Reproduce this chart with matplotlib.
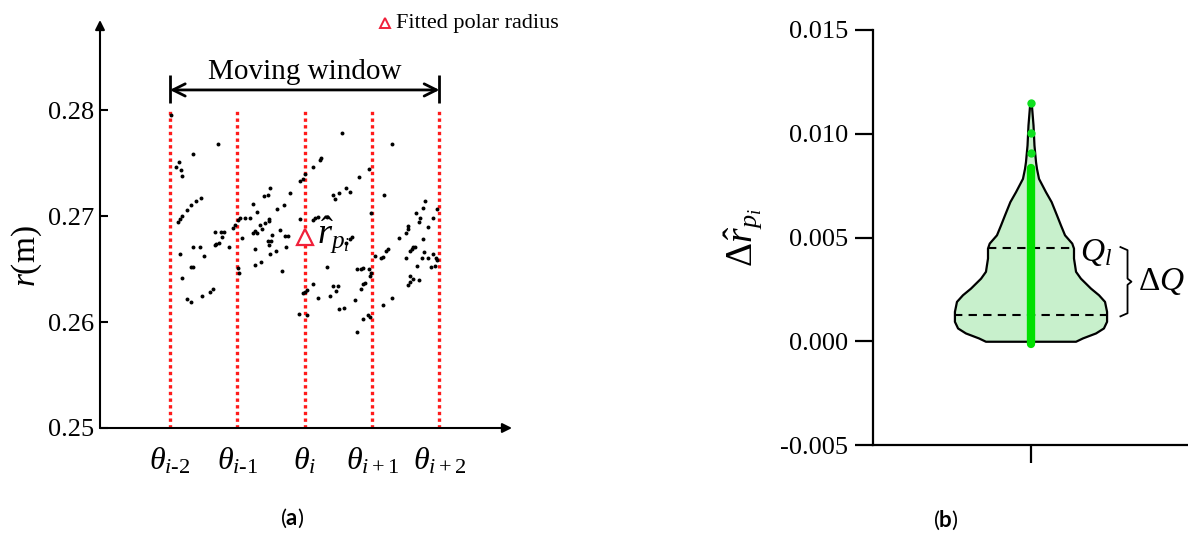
import numpy as np
import matplotlib
matplotlib.use("Agg")
import matplotlib.pyplot as plt

plt.rcParams['font.family'] = ['Liberation Serif', 'DejaVu Serif']
plt.rcParams['mathtext.fontset'] = 'custom'
plt.rcParams['mathtext.rm'] = 'Liberation Serif'
plt.rcParams['mathtext.it'] = 'Liberation Serif:italic'
plt.rcParams['mathtext.bf'] = 'Lato:bold'
plt.rcParams['mathtext.fallback'] = 'stix'

# ---- (a) polar radius samples around theta_i ----
theta_pos = [-2, -1, 0, 1, 2]
theta_labels = [r'$\theta_{i\text{-}2}$', r'$\theta_{i\text{-}1}$', r'$\theta_{i}$',
                r'$\theta_{i+1}$', r'$\theta_{i+2}$']
r_ticks = [0.25, 0.26, 0.27, 0.28]

theta_pts = [
    -1.98, -1.29, -1.65, -1.86, -1.91, -1.83, -1.82, 0.00, -0.07, -0.02,
    -0.51, -0.61, -0.55, -0.22, -1.54, -1.61, -1.69, -0.76, -0.31, -0.41,
    -1.74, -0.71, -1.82, -1.88, -1.85, -0.89, -0.81, -0.96, -0.53, -0.07,
    0.55, 1.29, 0.24, 0.22, 0.12, 0.96, 0.80, 0.61, 0.51, 0.67,
    0.42, 0.45, 1.18, 1.78, 1.75, 1.65, 1.97, 0.99, 1.91, 1.71,
    0.15, 0.20, 0.33, -0.99, -0.67, -0.59, -0.53, -0.74, -0.71, -0.76,
    -0.64, -0.37, -0.49, -0.29, -0.25, -0.93, -0.54, -0.50, -0.53, -0.27,
    -0.42, -1.33, -1.24, -1.19, -1.07, -1.03, -1.23, -1.27, -1.31, -1.33,
    -1.12, -1.66, -1.56, -1.85, -1.49, -0.74, -0.74, -0.65, -0.51, -0.99,
    -0.97, -1.69, -1.65, -0.34, -1.82, -0.02, 0.00, 0.03, -1.36, -1.41,
    -1.52, -1.74, -1.69, -0.09, 0.03, 0.62, 0.67, 0.70, 0.33, 0.77,
    0.84, 0.87, 0.96, 0.99, 0.97, 0.89, 0.86, 0.84, 0.12, 0.42,
    0.49, 0.46, 0.38, 0.20, 0.74, 0.51, 0.59, 0.94, 0.97, 0.86,
    0.78, 1.16, 1.30, 1.04, 1.16, 1.13, 1.24, 1.21, 1.40, 1.51,
    1.53, 1.54, 1.69, 1.83, 1.64, 1.61, 1.59, 1.56, 1.51, 1.75,
    1.77, 1.74, 1.83, 1.91, 1.95, 1.97, 1.66, 1.88, 1.93, 1.56,
    1.61, 1.56, 1.54, 1.69, 0.12]
r_pts = [
    0.2795, 0.2768, 0.2759, 0.2751, 0.2746, 0.2743, 0.2738, 0.2740, 0.2733, 0.2735,
    0.2726, 0.2719, 0.2720, 0.2722, 0.2717, 0.2714, 0.2710, 0.2711, 0.2710, 0.2707,
    0.2706, 0.2704, 0.2700, 0.2694, 0.2697, 0.2698, 0.2698, 0.2698, 0.2697, 0.2697,
    0.2778, 0.2768, 0.2755, 0.2753, 0.2746, 0.2744, 0.2737, 0.2726, 0.2722, 0.2723,
    0.2720, 0.2716, 0.2720, 0.2714, 0.2708, 0.2703, 0.2707, 0.2703, 0.2698, 0.2698,
    0.2698, 0.2699, 0.2699, 0.2696, 0.2692, 0.2693, 0.2695, 0.2686, 0.2684, 0.2684,
    0.2688, 0.2687, 0.2682, 0.2681, 0.2681, 0.2679, 0.2676, 0.2676, 0.2673, 0.2671,
    0.2667, 0.2685, 0.2685, 0.2685, 0.2689, 0.2692, 0.2680, 0.2675, 0.2674, 0.2673,
    0.2671, 0.2671, 0.2671, 0.2664, 0.2662, 0.2669, 0.2654, 0.2657, 0.2664, 0.2651,
    0.2646, 0.2652, 0.2652, 0.2648, 0.2642, 0.2627, 0.2628, 0.2630, 0.2631, 0.2628,
    0.2625, 0.2622, 0.2619, 0.2608, 0.2607, 0.2675, 0.2678, 0.2680, 0.2652, 0.2650,
    0.2650, 0.2651, 0.2650, 0.2646, 0.2643, 0.2637, 0.2636, 0.2631, 0.2636, 0.2634,
    0.2634, 0.2629, 0.2625, 0.2623, 0.2621, 0.2612, 0.2613, 0.2607, 0.2605, 0.2603,
    0.2591, 0.2616, 0.2623, 0.2662, 0.2661, 0.2660, 0.2669, 0.2667, 0.2679, 0.2684,
    0.2688, 0.2691, 0.2694, 0.2690, 0.2671, 0.2671, 0.2669, 0.2667, 0.2660, 0.2678,
    0.2666, 0.2660, 0.2660, 0.2664, 0.2660, 0.2659, 0.2653, 0.2652, 0.2653, 0.2643,
    0.2641, 0.2638, 0.2635, 0.2640, 0.2696]
r_fit = 0.2680  # fitted polar radius at theta_i

# ---- (b) violin of the radius deviation ----
violin_levels = [0.0, 0.00016, 0.0004, 0.00064, 0.00096, 0.00144, 0.00192, 0.00224,
                 0.00256, 0.00304, 0.00337, 0.00401, 0.00449, 0.00473, 0.00513,
                 0.00561, 0.00609, 0.00673, 0.00721, 0.00785, 0.00833, 0.00865,
                 0.00946, 0.01042, 0.01146]
violin_halfwidth = [0.286, 0.330, 0.413, 0.463, 0.483, 0.483, 0.470, 0.432,
                    0.381, 0.317, 0.286, 0.273, 0.273, 0.262, 0.216,
                    0.190, 0.165, 0.131, 0.095, 0.051, 0.038, 0.032,
                    0.022, 0.016, 0.005]
q_upper = 0.00449
q_lower = 0.00125
bar_top = 0.00833
outliers = [0.01146, 0.01002, 0.00905]
dev_ticks = [-0.005, 0.000, 0.005, 0.010, 0.015]
dev_labels = ['-0.005', '0.000', '0.005', '0.010', '0.015']

fig = plt.figure(figsize=(11.88, 5.33), dpi=100)

# left panel
ax = fig.add_axes([100/1188, 105/533, 412/1188, 408/533])
ax.set_xlim(-3.037, 3.076)
ax.set_ylim(0.25, 0.2885)
for s in ax.spines.values():
    s.set_visible(False)
ax.annotate('', xy=(0, 1), xytext=(0, 0), xycoords='axes fraction',
            arrowprops=dict(arrowstyle='-|>', lw=1.5, color='k', mutation_scale=14,
                            shrinkA=0, shrinkB=0))
ax.annotate('', xy=(1, 0), xytext=(0, 0), xycoords='axes fraction',
            arrowprops=dict(arrowstyle='-|>', lw=1.5, color='k', mutation_scale=14,
                            shrinkA=0, shrinkB=0))
ax.set_yticks(r_ticks)
ax.set_yticklabels(['%.2f' % v for v in r_ticks])
ax.tick_params(axis='y', direction='in', length=6, width=1.5, labelsize=19, pad=4)
ax.set_xticks(theta_pos)
ax.set_xticklabels(theta_labels)
ax.tick_params(axis='x', length=0, labelsize=23, pad=13)
ax.set_ylabel(r'$r$(m)', fontsize=24)
ax.yaxis.set_label_coords(-0.135, 0.42)

ax.vlines(theta_pos, 0.25, 0.28, colors='#ff1a1a', linestyles=(0, (1, 1)), lw=2.4, zorder=2)
ax.scatter(theta_pts, r_pts, s=8, color='k', zorder=3, linewidths=0)
ax.plot([0], [r_fit], marker='^', ms=11, mfc='white', mec='#f0203a', mew=1.6, zorder=4)
ax.text(0.18, r_fit + 0.0002, r'$\hat{r}_{p_i}$', fontsize=26, va='center', ha='left', zorder=5)

# moving window
ax.annotate('', xy=(-2, 0.2819), xytext=(2, 0.2819),
            arrowprops=dict(arrowstyle='<->', lw=2, color='k', mutation_scale=22,
                            shrinkA=0, shrinkB=0))
ax.vlines([-2, 2], 0.2807, 0.2833, colors='k', lw=2)
ax.text(0, 0.2836, 'Moving window', fontsize=21, ha='center', va='center')

# legend entry
ax.plot([1.19], [0.2882], marker='^', ms=7, mfc='white', mec='#f0203a', mew=1.4,
        clip_on=False)
ax.text(1.36, 0.2882, 'Fitted polar radius', fontsize=16, va='center', ha='left')

# right panel
ax2 = fig.add_axes([873/1188, 88/533, 315/1188, 415/533])
ax2.set_xlim(-1, 1)
ax2.set_ylim(-0.005, 0.015)
ax2.spines['top'].set_visible(False)
ax2.spines['right'].set_visible(False)
ax2.spines['left'].set_linewidth(1.6)
ax2.spines['bottom'].set_linewidth(1.6)
ax2.set_yticks(dev_ticks)
ax2.set_yticklabels(dev_labels)
ax2.tick_params(axis='y', direction='out', length=13, width=1.6, labelsize=19, pad=5)
ax2.set_xticks([0])
ax2.set_xticklabels([''])
ax2.tick_params(axis='x', direction='out', length=13, width=1.6)
ax2.set_ylabel(r'$\Delta\hat{r}_{p_i}$', fontsize=27)
ax2.yaxis.set_label_coords(-0.345, 0.5)

hw = np.array(violin_halfwidth)
ax2.fill_betweenx(violin_levels, -hw, hw, facecolor='#c8f0cc', edgecolor='k', lw=1.6, zorder=2)
hq1 = np.interp(q_upper, violin_levels, hw)
hq3 = np.interp(q_lower, violin_levels, hw)
ax2.plot([-hq1, hq1], [q_upper, q_upper], color='k', ls=(0, (4, 3)), lw=1.5, zorder=3)
ax2.plot([-hq3, hq3], [q_lower, q_lower], color='k', ls=(0, (4, 3)), lw=1.5, zorder=3)
ax2.plot([0, 0], [-0.00015, bar_top], color='#00e000', lw=6, solid_capstyle='round', zorder=4)
ax2.plot([0] * len(outliers), outliers, 'o', ms=6, color='#10e020', mew=0, zorder=4)

# interquartile brace
bx0, bx1 = 0.571, 0.616
bmid = (q_upper + q_lower) / 2
ax2.plot([bx0, bx1, bx1, bx1 + 0.025, bx1, bx1, bx0],
         [q_upper + 0.00005, q_upper - 0.0001, bmid + 0.00015, bmid, bmid - 0.00015,
          q_lower + 0.0001, q_lower - 0.00005], color='k', lw=1.3, zorder=3)
ax2.text(0.317, q_upper - 0.0002, r'$Q_l$', fontsize=24, ha='left', va='center')
ax2.text(0.685, bmid, r'$\Delta Q$', fontsize=24, ha='left', va='center')

# panel captions
fig.text(292/1188, 1 - 518/533, r'($\mathbf{a}$)', family='Lato', fontsize=16,
         ha='center', va='center')
fig.text(946/1188, 1 - 520/533, r'($\mathbf{b}$)', family='Lato', fontsize=16,
         ha='center', va='center')

fig.savefig('out.png', dpi=100)
